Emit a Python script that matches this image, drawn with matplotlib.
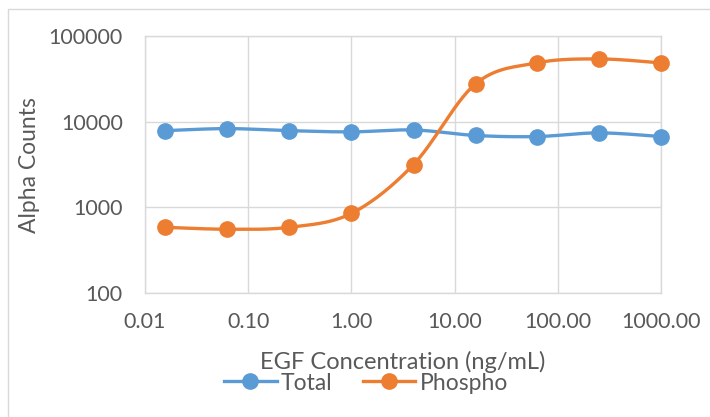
import numpy as np
import matplotlib
matplotlib.use("Agg")
import matplotlib.pyplot as plt
from matplotlib.ticker import FixedLocator, FixedFormatter, NullLocator
from matplotlib.patches import Rectangle
from matplotlib.lines import Line2D

conc = [0.015625, 0.0625, 0.25, 1.0, 4.0, 16.0, 62.5, 250.0, 1000.0]
total = [7850, 8300, 7850, 7600, 8000, 6900, 6700, 7400, 6700]
phospho = [585, 555, 585, 850, 3160, 27700, 48500, 54000, 48500]
x_ticks = [0.01, 0.1, 1, 10, 100, 1000]
x_tick_labels = ["0.01", "0.10", "1.00", "10.00", "100.00", "1000.00"]
y_ticks = [100, 1000, 10000, 100000]
y_tick_labels = ["100", "1000", "10000", "100000"]

BLUE = "#5B9BD5"
ORANGE = "#ED7D31"
GRID = "#D9D9D9"
TXT = "#595959"
FONT = ["Lato", "DejaVu Sans"]
plt.rcParams["font.family"] = FONT


def smooth(x, y, n=30):
    lx = np.log10(np.asarray(x, float))
    ly = np.log10(np.asarray(y, float))
    P = np.column_stack([lx, ly])
    m = len(P)
    out = []
    for i in range(m - 1):
        p0 = P[max(i - 1, 0)]
        p1 = P[i]
        p2 = P[i + 1]
        p3 = P[min(i + 2, m - 1)]
        c1 = p1 + (p2 - p0) / 6.0
        c2 = p2 - (p3 - p1) / 6.0
        t = np.linspace(0, 1, n)[:, None]
        seg = ((1 - t) ** 3) * p1 + 3 * ((1 - t) ** 2) * t * c1 + 3 * (1 - t) * t ** 2 * c2 + t ** 3 * p2
        out.append(seg if i == 0 else seg[1:])
    out = np.vstack(out)
    return 10 ** out[:, 0], 10 ** out[:, 1]


fig = plt.figure(figsize=(7.10, 4.17), dpi=100)
fig.patches.append(Rectangle((8 / 710, -0.1), 1.2, 1 - 9 / 417 + 0.1, transform=fig.transFigure,
                             fill=False, edgecolor=GRID, linewidth=1.0))
ax = fig.add_axes([145 / 710, 1 - 293 / 417, (661 - 145) / 710, (293 - 36) / 417])
ax.set_xscale("log")
ax.set_yscale("log")
ax.set_xlim(0.01, 1000)
ax.set_ylim(100, 100000)

for series, col in ((total, BLUE), (phospho, ORANGE)):
    sx, sy = smooth(conc, series)
    ax.plot(sx, sy, color=col, linewidth=2.4, solid_capstyle="round", zorder=3, clip_on=False)
    ax.plot(conc, series, linestyle="none", marker="o", markersize=11,
            color=col, markeredgecolor=col, zorder=4, clip_on=False)

ax.xaxis.set_major_locator(FixedLocator(x_ticks))
ax.xaxis.set_major_formatter(FixedFormatter(x_tick_labels))
ax.yaxis.set_major_locator(FixedLocator(y_ticks))
ax.yaxis.set_major_formatter(FixedFormatter(y_tick_labels))
ax.xaxis.set_minor_locator(NullLocator())
ax.yaxis.set_minor_locator(NullLocator())
ax.grid(True, color=GRID, linewidth=1.0)
ax.set_axisbelow(True)
for s in ax.spines.values():
    s.set_color(GRID)
    s.set_linewidth(1.0)
ax.tick_params(length=0, labelsize=15.5, colors=TXT)
ax.tick_params(axis="x", pad=14)
ax.tick_params(axis="y", pad=16)

fig.text(30 / 710, 1 - 165 / 417, "Alpha Counts", rotation=90, ha="center", va="center",
         fontsize=16.5, color=TXT)
fig.text(403 / 710, 1 - 362 / 417, "EGF Concentration (ng/mL)", ha="center", va="center",
         fontsize=17, color=TXT)

handles = [Line2D([], [], color=BLUE, linewidth=2.4, marker="o", markersize=11),
           Line2D([], [], color=ORANGE, linewidth=2.4, marker="o", markersize=11)]
fig.legend(handles, ["Total", "Phospho"], loc="center", bbox_to_anchor=(366 / 710, 1 - 383 / 417),
           ncol=2, frameon=False, fontsize=16.5, labelcolor=TXT, handlelength=2.3,
           handletextpad=0.2, columnspacing=1.3, borderpad=0)

fig.savefig("out.png", dpi=100)
